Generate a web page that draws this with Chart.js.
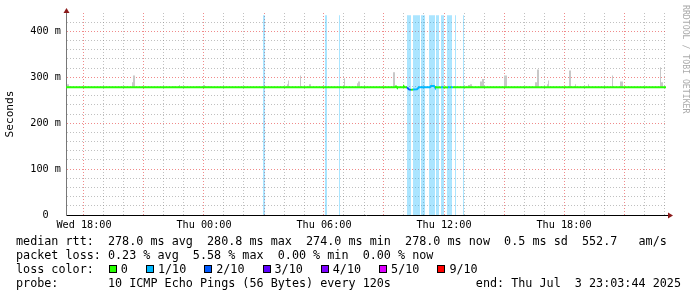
<!DOCTYPE html>
<html lang="en">
<head>
<meta charset="UTF-8">
<title>SmokePing latency</title>
<script src="https://cdn.jsdelivr.net/npm/chart.js@4.4.1/dist/chart.umd.min.js"></script>
<style>
  body { margin: 0; background: #fff; }
  #wrap { position: relative; width: 697px; height: 297px; overflow: hidden; }
  #chart { position: absolute; left: 0; top: 0; }
  .legend {
    position: absolute; left: 16px; top: 234px; margin: 0;
    font-family: 'DejaVu Sans Mono', monospace; font-size: 11.75px; line-height: 14px;
    color: #000; white-space: pre;
  }
  .item { margin-left: 18px; }
  .item:first-child { margin-left: 15px; }
  .box { display: inline-block; width: 6px; height: 6px; border: 1px solid #000; margin-right: 4px; }
  .mark {
    position: absolute; left: 681px; top: 5px;
    font-family: 'DejaVu Sans Mono', monospace; font-size: 8.2px; line-height: 10px;
    color: #aaa; writing-mode: vertical-rl;
  }
</style>
</head>
<body>
<div id="wrap">
  <canvas id="chart" width="697" height="297"></canvas>
  <div class="mark">RRDTOOL / TOBI OETIKER</div>
  <div class="legend">median rtt:  278.0 ms avg  280.8 ms max  274.0 ms min  278.0 ms now  0.5 ms sd  552.7   am/s
packet loss: 0.23 % avg  5.58 % max  0.00 % min  0.00 % now
loss color:<span id="lossRow"></span>
probe:       10 ICMP Echo Pings (56 Bytes) every 120s            end: Thu Jul  3 23:03:44 2025</div>
</div>
<script>
// time is counted in hours from Wed 00:00, latency in ms
const medianHours = [17.1, 33.55, 33.6, 33.65, 33.95, 34.0, 34.05, 34.15, 34.25, 34.35, 34.45, 34.65, 34.75,
                     35.3, 35.35, 35.5, 35.55, 35.85, 35.95, 36.2, 36.3, 36.35, 36.45, 47.1];
const medianMs    = [278, 278, 280, 278, 278, 280, 278, 278, 273.5, 272.5, 273.5, 274, 278,
                     278, 281, 281, 278, 278, 278, 278, 278, 278, 278, 278];
// index into lossColors for the segment that starts at each point
const medianLoss  = [0, 0, 0, 0, 0, 0, 0, 2, 2, 0, 1, 1, 1,
                     1, 1, 1, 0, 1, 0, 1, 0, 1, 0, 0];

const smokeStart = [17.15, 17.25, 17.35, 20.4, 20.45, 22.45, 22.75, 23.65, 23.95, 24.1, 28.15, 28.2, 28.8,
                    29.2, 29.25, 31.0, 31.65, 31.7, 33.45, 35.35, 37.2, 37.3, 37.8, 37.9, 39.0, 40.55, 40.65,
                    41.15, 41.2, 42.25, 42.55, 43.2, 44.4, 44.8, 46.8, 46.85];
const smokeEnd   = [17.25, 17.35, 17.4, 20.45, 20.55, 22.55, 22.8, 23.75, 24.05, 24.35, 28.2, 28.25, 28.85,
                    29.25, 29.35, 31.05, 31.7, 31.8, 33.55, 35.4, 37.3, 37.4, 37.9, 38.0, 39.15, 40.65, 40.75,
                    41.2, 41.25, 42.35, 42.6, 43.25, 44.45, 44.95, 46.85, 46.95];
const smokeTop   = [285, 280, 283, 289, 304, 280, 283, 280, 283, 280, 285, 293, 304,
                    280, 285, 298, 287, 291, 311, 287, 283, 285, 291, 296, 304, 289, 317,
                    285, 293, 315, 285, 285, 304, 291, 322, 289];

const lossStart = [26.95, 30.05, 30.75, 34.15, 34.45, 34.85, 35.25, 35.6, 35.85, 36.15, 36.55, 36.95];
const lossEnd   = [27.05, 30.15, 30.8, 34.35, 34.8, 35.05, 35.55, 35.75, 36.0, 36.4, 36.6, 37.0];
const lossBarMs = 435;

const lossLevels = ['0', '1/10', '2/10', '3/10', '4/10', '5/10', '9/10'];
const lossColors = ['#26ff00', '#00b8ff', '#0059ff', '#5e00ff', '#7e00ff', '#dd00ff', '#ff0000'];

const xTickHours  = [18, 24, 30, 36, 42];
const xTickLabels = ['Wed 18:00', 'Thu 00:00', 'Thu 06:00', 'Thu 12:00', 'Thu 18:00'];
const yTickValues = [0, 100, 200, 300, 400];
const yTickLabels = ['0  ', '100 m', '200 m', '300 m', '400 m'];

const mono = 'DejaVu Sans Mono';
const majorGrid = 'rgba(230, 60, 60, 0.6)';
const minorGrid = 'rgba(130, 130, 130, 0.5)';

// each [start, end] interval becomes a closed block for a filled line
function blocks(starts, ends, tops, base) {
  const pts = [];
  starts.forEach((s, i) => {
    const top = Array.isArray(tops) ? tops[i] : tops;
    pts.push({x: s, y: base}, {x: s, y: top}, {x: ends[i], y: top}, {x: ends[i], y: base});
  });
  return pts;
}

const row = document.getElementById('lossRow');
lossLevels.forEach((lvl, i) => {
  const item = document.createElement('span');
  item.className = 'item';
  item.innerHTML = '<span class="box" style="background:' + lossColors[i] + '"></span>' + lvl;
  row.appendChild(item);
});

const axisArrows = {
  id: 'axisArrows',
  afterDraw(chart) {
    const {ctx, chartArea: a} = chart;
    ctx.save();
    ctx.lineWidth = 1;
    ctx.strokeStyle = '#777';
    ctx.beginPath(); ctx.moveTo(a.left + 0.5, a.top); ctx.lineTo(a.left + 0.5, a.top - 3); ctx.stroke();
    ctx.strokeStyle = '#000';
    ctx.beginPath(); ctx.moveTo(a.right, a.bottom + 0.5); ctx.lineTo(a.right + 3, a.bottom + 0.5); ctx.stroke();
    ctx.fillStyle = '#8b1a1a';
    ctx.beginPath();
    ctx.moveTo(a.left + 0.5, a.top - 5); ctx.lineTo(a.left - 2.5, a.top); ctx.lineTo(a.left + 3.5, a.top);
    ctx.closePath(); ctx.fill();
    ctx.beginPath();
    ctx.moveTo(a.right + 7, a.bottom + 0.5); ctx.lineTo(a.right + 2, a.bottom - 2.5); ctx.lineTo(a.right + 2, a.bottom + 3.5);
    ctx.closePath(); ctx.fill();
    ctx.restore();
  }
};

new Chart(document.getElementById('chart'), {
  type: 'line',
  data: {
    datasets: [
      {
        label: 'median rtt',
        data: medianHours.map((h, i) => ({x: h, y: medianMs[i]})),
        borderColor: lossColors[0],
        borderWidth: 2,
        borderCapStyle: 'butt',
        pointRadius: 0,
        fill: false,
        segment: { borderColor: c => lossColors[medianLoss[c.p0DataIndex]] },
        order: 0
      },
      {
        label: 'smoke',
        data: blocks(smokeStart, smokeEnd, smokeTop, 277),
        borderWidth: 0,
        borderColor: 'rgba(0,0,0,0)',
        backgroundColor: '#c8c8c8',
        fill: {value: 277},
        pointRadius: 0,
        order: 1
      },
      {
        label: 'loss',
        data: blocks(lossStart, lossEnd, lossBarMs, 0),
        borderWidth: 0,
        borderColor: 'rgba(0,0,0,0)',
        backgroundColor: 'rgba(0, 176, 255, 0.33)',
        fill: 'origin',
        pointRadius: 0,
        order: 2
      }
    ]
  },
  options: {
    responsive: false,
    animation: false,
    devicePixelRatio: 1,
    layout: { padding: { left: 0, right: 31, top: 13, bottom: 0 } },
    plugins: { legend: { display: false }, tooltip: { enabled: false } },
    scales: {
      x: {
        type: 'linear',
        min: 17.1,
        max: 47.1,
        afterFit: s => { s.height = 82; },
        afterBuildTicks: s => {
          const t = [];
          for (let h = 18; h <= 47; h++) t.push({value: h});
          s.ticks = t;
        },
        grid: {
          drawTicks: false,
          lineWidth: 1,
          color: c => (c.tick && c.tick.value % 3 === 0) ? majorGrid : minorGrid
        },
        border: { display: true, color: '#000', width: 1, dash: [1, 2] },
        ticks: {
          autoSkip: false, maxRotation: 0, padding: 4, color: '#000',
          font: { family: mono, size: 10.2 },
          callback: v => { const i = xTickHours.indexOf(v); return i < 0 ? '' : xTickLabels[i]; }
        }
      },
      y: {
        min: 0,
        max: 440,
        afterFit: s => { s.width = 66; },
        afterBuildTicks: s => {
          const t = [];
          for (let v = 0; v <= 420; v += 20) t.push({value: v});
          s.ticks = t;
        },
        grid: {
          drawTicks: false,
          lineWidth: 1,
          color: c => (c.tick && c.tick.value % 100 === 0) ? majorGrid : minorGrid
        },
        border: { display: true, color: '#777', width: 1, dash: [1, 2] },
        title: {
          display: true, text: 'Seconds', color: '#000',
          font: { family: mono, size: 11.2 }, padding: { top: 3, bottom: 0 }
        },
        ticks: {
          autoSkip: false, padding: 5, color: '#000',
          font: { family: mono, size: 10.2 },
          callback: v => { const i = yTickValues.indexOf(v); return i < 0 ? '' : yTickLabels[i]; }
        }
      }
    }
  },
  plugins: [axisArrows]
});
</script>
</body>
</html>
